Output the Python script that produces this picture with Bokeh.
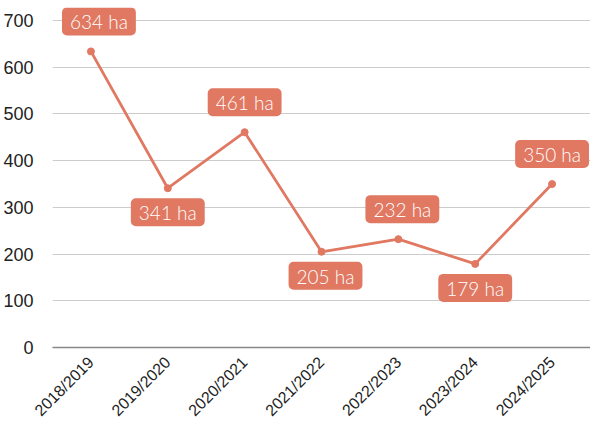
from bokeh.plotting import figure
from bokeh.models import ColumnDataSource, Range1d, FactorRange
from bokeh.core.properties import value
from bokeh.embed import file_html
from bokeh.resources import INLINE
import math

seasons = ["2018/2019", "2019/2020", "2020/2021", "2021/2022", "2022/2023", "2023/2024", "2024/2025"]
hectares = [634, 341, 461, 205, 232, 179, 350]
label_side = ["above", "below", "above", "below", "above", "below", "above"]
label_shift = [8, 0, 0, 4, 4, 0, 0]
y_ticks = [0, 100, 200, 300, 400, 500, 600, 700]

color = "#E07862"

p = figure(x_range=FactorRange(*seasons, range_padding=0), y_range=Range1d(0, 728),
           width=590, height=428, output_backend="svg", toolbar_location=None,
           min_border_left=52, min_border_right=0, min_border_top=7, min_border_bottom=0)
p.outline_line_color = None
p.background_fill_color = "white"
p.border_fill_color = "white"

src = ColumnDataSource(dict(x=seasons, y=hectares,
                            txt=[f"{v} ha" for v in hectares],
                            yo=[-30 if s == "above" else 24 for s in label_side],
                            xo=label_shift))
p.line("x", "y", source=src, line_color=color, line_width=2.8)
p.scatter("x", "y", source=src, size=7, fill_color=color, line_color=color)
p.text("x", "y", text="txt", source=src, x_offset="xo", y_offset="yo",
       text_align="center", text_baseline="middle", text_color="white",
       text_font=value("Lato Light"), text_font_size="19px",
       background_fill_color=color, border_radius=5, padding=[8, 8, 3, 2])

p.yaxis.ticker = y_ticks
p.yaxis.axis_line_color = None
p.yaxis.major_tick_line_color = None
p.yaxis.minor_tick_line_color = None
p.yaxis.major_label_text_font = "Liberation Sans"
p.yaxis.major_label_text_font_size = "18px"
p.yaxis.major_label_text_color = "#222222"
p.yaxis.major_label_standoff = 13

p.xaxis.axis_line_color = "#888888"
p.xaxis.axis_line_width = 1.5
p.xaxis.major_tick_line_color = None
p.xaxis.minor_tick_line_color = None
p.xaxis.major_label_orientation = math.pi / 4
p.xaxis.major_label_text_font = "Liberation Sans"
p.xaxis.major_label_text_font_size = "16px"
p.xaxis.major_label_text_color = "#222222"
p.xaxis.major_label_standoff = 6

p.xgrid.grid_line_color = None
p.ygrid.grid_line_color = "#cccccc"
p.ygrid.grid_line_width = 1

open("out.html", "w").write(file_html(p, INLINE))
